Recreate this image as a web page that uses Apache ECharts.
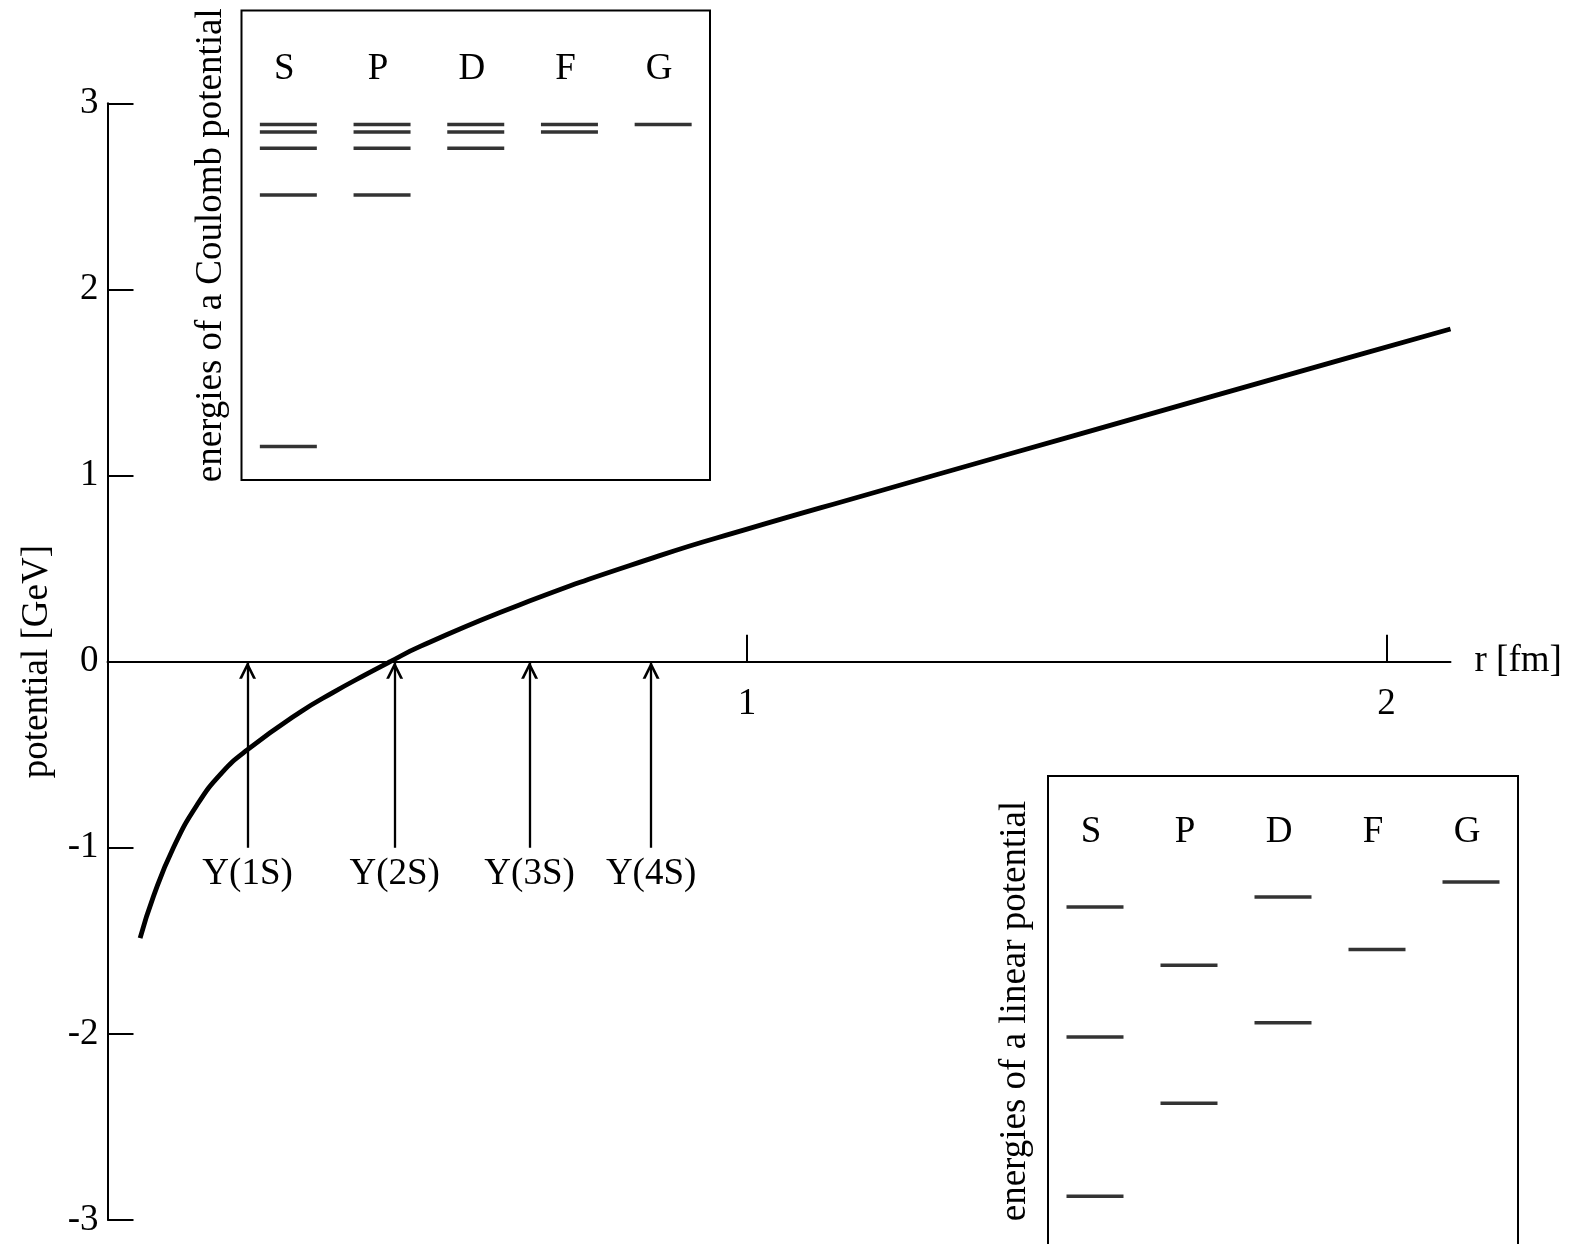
<!DOCTYPE html>
<html>
<head>
<meta charset="utf-8">
<script src="https://cdn.jsdelivr.net/npm/echarts@6/dist/echarts.min.js"></script>
<style>
  html, body { margin: 0; padding: 0; background: #fff; }
  #chart { width: 1573px; height: 1244px; }
</style>
</head>
<body>
<div id="chart"></div>
<script>
// Static quark-antiquark potential V(r): r in fm, V in GeV
const radius = [0.051, 0.072, 0.103, 0.140, 0.179, 0.219, 0.301, 0.353, 0.405, 0.442,
                0.489, 0.644, 0.861, 1.000, 1.187, 1.296, 1.513, 1.730, 1.948, 2.100];
const potential = [-1.486, -1.260, -1.000, -0.770, -0.596, -0.473, -0.272, -0.165, -0.067, 0.000,
                   0.082, 0.305, 0.567, 0.712, 0.897, 1.004, 1.216, 1.428, 1.640, 1.787];

// Upsilon states and their mean radii (fm)
const stateNames = ['Y(1S)', 'Y(2S)', 'Y(3S)', 'Y(4S)'];
const stateRadius = [0.219, 0.449, 0.660, 0.850];
const arrowBase = -1;
const arrowTip = 0;

// Main axis ticks
const xTicks = [1, 2];
const yTicks = [-3, -2, -1, 0, 1, 2, 3];

// Orbital waves
const waves = ['S', 'P', 'D', 'F', 'G'];

// Coulomb spectrum (units of the ground-state binding energy)
const coulombS = [-1.000, -0.250, -0.111, -0.062, -0.040];
const coulombP = [-0.250, -0.111, -0.062, -0.040];
const coulombD = [-0.111, -0.062, -0.040];
const coulombF = [-0.062, -0.040];
const coulombG = [-0.040];

// Linear-potential spectrum (dimensionless eigenvalues)
const linearS = [2.338, 4.088, 5.518];
const linearP = [3.359, 4.879];
const linearD = [4.246, 5.630];
const linearF = [5.052];
const linearG = [5.795];

const FONT = '"Liberation Serif", "Times New Roman", serif';
const FS = 37;
const BLACK = '#000';

// main plot area
const MAIN = { left: 107.5, top: 103.3, width: 1343, height: 1116.7 };
const Y_MIN = -3, Y_MAX = 3;
// shift the r axis up so that it runs along V = 0
const xAxisOffset = -MAIN.height * (0 - Y_MIN) / (Y_MAX - Y_MIN);

function levelPoints(groups) {
  const pts = [];
  groups.forEach((g, i) => g.forEach(e => pts.push([i, e])));
  return pts;
}

const curve = radius.map((r, i) => [r, potential[i]]);

// open arrowhead; the empty move at the top puts the tip at the symbol centre
const arrowHead = 'path://M8,0 L8,0 M0,32 L8,16 L16,32 L13.2,32 L8,21.6 L2.8,32 Z';

const arrowLines = stateRadius.map((r, i) => [
  { name: stateNames[i], coord: [r, arrowBase] },
  { coord: [r, arrowTip] }
]);

const textStyle = { fontFamily: FONT, fontSize: FS, color: BLACK };

function insetXAxis(gridIndex, margin) {
  return {
    gridIndex: gridIndex,
    type: 'category',
    data: waves,
    position: 'top',
    boundaryGap: true,
    axisLine: { show: false },
    axisTick: { show: false },
    splitLine: { show: false },
    axisLabel: Object.assign({ inside: true, margin: margin, padding: [0, 8, 0, 0] }, textStyle)
  };
}

function insetYAxis(gridIndex, min, max, name, gap) {
  return {
    gridIndex: gridIndex,
    type: 'value',
    min: min,
    max: max,
    axisLine: { show: false },
    axisTick: { show: false },
    axisLabel: { show: false },
    splitLine: { show: false },
    name: name,
    nameLocation: 'middle',
    nameRotate: 90,
    nameGap: gap,
    nameMoveOverlap: false,
    nameTextStyle: textStyle
  };
}

const chart = echarts.init(document.getElementById('chart'), null, { renderer: 'canvas' });

chart.setOption({
  backgroundColor: '#fff',
  animation: false,
  textStyle: { fontFamily: FONT, color: BLACK },
  grid: [
    Object.assign({ outerBoundsMode: 'none', containLabel: false }, MAIN),
    { left: 241.5, top: 10.5, width: 468.5, height: 469.5, outerBoundsMode: 'none', containLabel: false,
      show: true, borderColor: BLACK, borderWidth: 2, backgroundColor: 'transparent' },
    { left: 1048, top: 776, width: 470, height: 470, outerBoundsMode: 'none', containLabel: false,
      show: true, borderColor: BLACK, borderWidth: 2, backgroundColor: 'transparent' }
  ],
  xAxis: [
    {
      gridIndex: 0,
      type: 'value',
      position: 'bottom',
      offset: xAxisOffset,
      min: 0,
      max: 2.1,
      interval: 1,
      axisLine: { show: true, onZero: false, lineStyle: { color: BLACK, width: 2 } },
      axisTick: { show: true, inside: true, length: 27, customValues: xTicks, lineStyle: { color: BLACK, width: 2 } },
      axisLabel: Object.assign({ margin: 24, customValues: xTicks }, textStyle),
      splitLine: { show: false },
      name: 'r [fm]',
      nameLocation: 'end',
      nameGap: 24,
      nameMoveOverlap: false,
      nameTextStyle: Object.assign({ verticalAlign: 'middle' }, textStyle)
    },
    insetXAxis(1, 40),
    insetXAxis(2, 38)
  ],
  yAxis: [
    {
      gridIndex: 0,
      type: 'value',
      min: Y_MIN,
      max: Y_MAX,
      interval: 1,
      axisLine: { show: true, onZero: false, lineStyle: { color: BLACK, width: 2 } },
      axisTick: { show: true, inside: true, length: 26, customValues: yTicks, lineStyle: { color: BLACK, width: 2 } },
      axisLabel: Object.assign({ margin: 9, customValues: yTicks }, textStyle),
      splitLine: { show: false },
      name: 'potential [GeV]',
      nameLocation: 'middle',
      nameRotate: 90,
      nameGap: 52,
      nameMoveOverlap: false,
      nameTextStyle: textStyle
    },
    insetYAxis(1, -1.1, 0.3, 'energies of a Coulomb potential', 12),
    insetYAxis(2, 1.79, 6.96, 'energies of a linear potential', 14)
  ],
  series: [
    {
      name: 'potential',
      type: 'line',
      xAxisIndex: 0,
      yAxisIndex: 0,
      data: curve,
      smooth: 0.5,
      showSymbol: false,
      silent: true,
      lineStyle: { color: BLACK, width: 4.8 },
      markLine: {
        silent: true,
        symbol: ['none', arrowHead],
        symbolSize: [17, 34],
        lineStyle: { color: BLACK, width: 2.3, type: 'solid' },
        emphasis: { disabled: true },
        label: Object.assign({
          show: true,
          position: 'start',
          distance: 8,
          formatter: p => p.name
        }, textStyle),
        data: arrowLines
      }
    },
    {
      name: 'coulomb',
      type: 'scatter',
      xAxisIndex: 1,
      yAxisIndex: 1,
      symbol: 'rect',
      symbolSize: [57, 3.5],
      silent: true,
      itemStyle: { color: BLACK },
      data: levelPoints([coulombS, coulombP, coulombD, coulombF, coulombG])
    },
    {
      name: 'linear',
      type: 'scatter',
      xAxisIndex: 2,
      yAxisIndex: 2,
      symbol: 'rect',
      symbolSize: [57, 3.5],
      silent: true,
      itemStyle: { color: BLACK },
      data: levelPoints([linearS, linearP, linearD, linearF, linearG])
    }
  ]
});
</script>
</body>
</html>
